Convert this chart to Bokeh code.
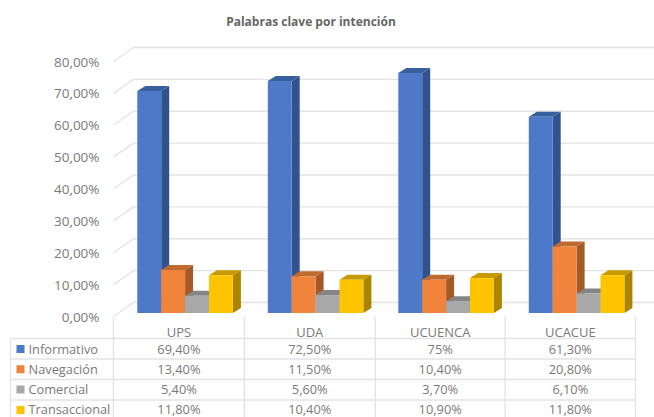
from bokeh.plotting import figure
from bokeh.models import Range1d
from bokeh.core.properties import value
from bokeh.embed import file_html
from bokeh.resources import INLINE

categories = ["UPS", "UDA", "UCUENCA", "UCACUE"]
series = ["Informativo", "Navegación", "Comercial", "Transaccional"]
informativo = [69.4, 72.5, 75.0, 61.3]
navegacion = [13.4, 11.5, 10.4, 20.8]
comercial = [5.4, 5.6, 3.7, 6.1]
transaccional = [11.8, 10.4, 10.9, 11.8]
labels_informativo = ["69,40%", "72,50%", "75%", "61,30%"]
labels_navegacion = ["13,40%", "11,50%", "10,40%", "20,80%"]
labels_comercial = ["5,40%", "5,60%", "3,70%", "6,10%"]
labels_transaccional = ["11,80%", "10,40%", "10,90%", "11,80%"]
y_ticks = [0, 10, 20, 30, 40, 50, 60, 70, 80]
y_tick_labels = ["0,00%", "10,00%", "20,00%", "30,00%", "40,00%", "50,00%", "60,00%", "70,00%", "80,00%"]
title = "Palabras clave por intención"

front = ["#4e79c8", "#f0843c", "#a8a8a8", "#ffc400"]
side = ["#30528f", "#a35a28", "#747474", "#ab8400"]
top = ["#38609f", "#bf6a2f", "#858585", "#c79a00"]
grid = "#e3e3e3"
txt = "#7a7a7a"
FONT = "Open Sans"

W, H = 654, 417
PXY = 3.2
BASE = 312.5


def Y(px):
    return (BASE - px) / PXY


p = figure(width=W, height=H, output_backend="svg", toolbar_location=None,
           x_range=Range1d(0, W), y_range=Range1d(Y(H), Y(0)),
           min_border=0, outline_line_color=None)
p.xaxis.visible = False
p.yaxis.visible = False
p.grid.visible = False
p.background_fill_color = "white"

# walls: gridlines
gx0, gx1, gx2 = 113, 133, 654
dyf, dyb = -3.5 / PXY, 10.5 / PXY
scale = 3.1875 / PXY
xs, ys = [], []
for t in y_ticks:
    xs.append([gx0, gx1, gx2])
    ys.append([dyf + t * scale, dyb + t * scale, dyb + t * scale])
p.multi_line(xs, ys, line_color=grid, line_width=1.3)

# bars
BW, GAP = 23.9, 130.5
DX, DY = 8.0, 5.0 / PXY
FIRST = 136.8
data = [informativo, navegacion, comercial, transaccional]
for s in range(4):
    for g in range(4):
        v = data[s][g]
        x0 = FIRST + g * GAP + s * BW
        x1 = x0 + BW
        # side face, top face, front face
        p.patch([x1, x1 + DX, x1 + DX, x1], [0, DY, v + DY, v], fill_color=side[s], line_color=None)
        p.patch([x0, x0 + DX, x1 + DX, x1], [v, v + DY, v + DY, v], fill_color=top[s], line_color=None)
        p.patch([x0, x1, x1, x0], [0, 0, v, v], fill_color=front[s], line_color=None)

# y labels
p.text([99] * len(y_ticks), [dyf + t * scale for t in y_ticks], text=y_tick_labels,
       text_align="right", text_baseline="middle", text_font=value(FONT), text_font_size="13.5px",
       text_color=txt)

# table
col_x = [113, 243.8, 374.7, 504.7, 635]
row_y = [Y(338), Y(358.5), Y(379), Y(399.5)]
bot = Y(H)
for cx in col_x:
    p.line([cx, cx], [Y(316), bot], line_color=grid, line_width=1.3)
p.line([10, 10], [row_y[0], bot], line_color=grid, line_width=1.3)
for ry in row_y:
    p.line([10, col_x[-1]], [ry, ry], line_color=grid, line_width=1.3)

cx_mid = [(col_x[i] + col_x[i + 1]) / 2 for i in range(4)]
p.text(cx_mid, [Y(331)] * 4, text=categories, text_align="center", text_baseline="middle",
       text_font=value(FONT), text_font_size="13px", text_color=txt)
rows = [labels_informativo, labels_navegacion, labels_comercial, labels_transaccional]
for r in range(4):
    ymid = Y(348.3 + r * 20)
    p.text(cx_mid, [ymid] * 4, text=rows[r], text_align="center", text_baseline="middle",
           text_font=value(FONT), text_font_size="12.8px", text_color=txt)
    p.text([28], [ymid], text=[series[r]], text_align="left", text_baseline="middle",
           text_font=value(FONT), text_font_size="12.8px", text_color=txt)
    p.scatter([20], [Y(348.5 + r * 20.3)], marker="square", size=8, fill_color=front[r], line_color=None)

p.text([310.5], [Y(21)], text=[title], text_align="center", text_baseline="middle",
       text_font=value("Open Sans"), text_font_style="bold", text_font_size="12px", text_color="#666666")

open("out.html", "w").write(file_html(p, INLINE))
